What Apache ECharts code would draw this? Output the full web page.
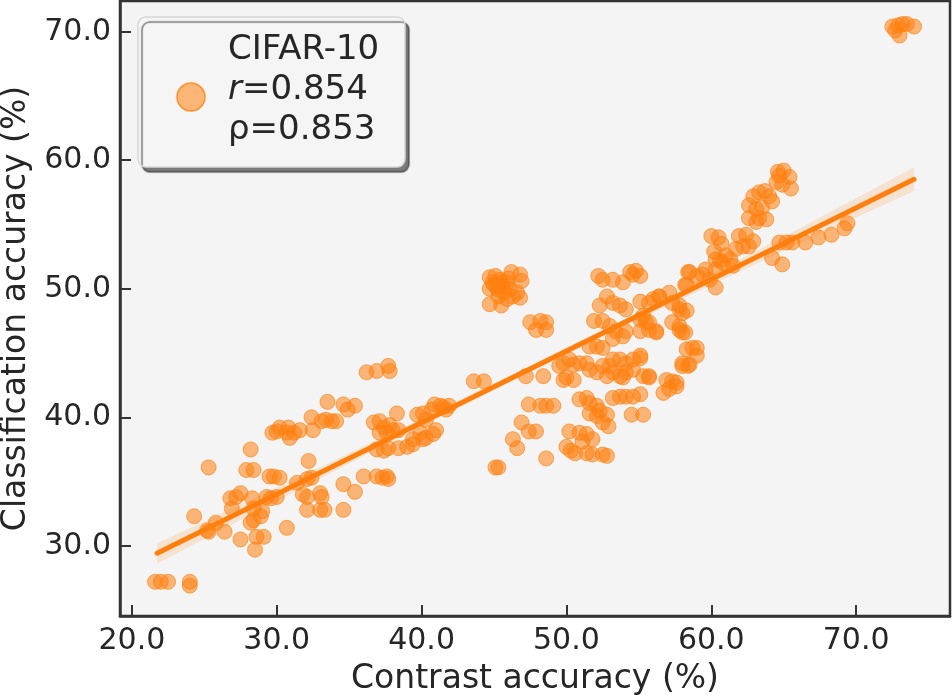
<!DOCTYPE html>
<html>
<head>
<meta charset="utf-8">
<script src="https://cdn.jsdelivr.net/npm/echarts@6/dist/echarts.min.js"></script>
<style>
html,body{margin:0;padding:0;background:#fff;}
#chart{width:952px;height:695px;}
</style>
</head>
<body>
<div id="chart"></div>
<script>
// ---- data ----
var contrastAcc = [
21.6,22.0,22.5,24.0,24.0,24.3,25.3,25.2,25.3,25.8,26.4,26.8,27.2,27.5,26.9,27.5,28.2,28.4,28.9,29.0,
28.6,29.1,28.5,28.3,28.4,27.9,28.4,28.2,29.5,29.8,30.2,29.3,29.6,30.0,30.7,31.4,32.1,32.4,31.8,32.1,
33.0,33.1,32.1,33.0,33.3,32.2,34.6,34.6,35.4,36.0,36.9,37.3,37.6,37.7,
29.7,30.0,30.2,30.7,30.8,30.9,31.2,31.6,32.4,32.5,33.1,33.4,33.8,34.1,33.5,34.6,34.9,35.4,
36.7,37.1,37.4,37.8,38.3,37.6,38.0,38.4,37.1,36.9,37.4,37.7,38.4,39.0,39.4,
39.7,40.1,40.3,40.7,40.9,40.1,40.3,40.8,41.0,39.4,39.9,41.3,41.7,41.5,41.9,
36.2,36.9,37.7,37.8,
44.7,45.1,45.4,45.9,46.2,46.8,46.9,44.7,45.2,45.6,46.1,46.6,46.8,44.7,45.5,45.9,46.3,45.3,44.9,45.7,
45.0,45.5,46.0,45.3,
47.5,47.9,48.2,48.6,48.6,43.6,44.3,47.2,48.4,
49.5,49.8,50.2,50.5,50.9,49.8,50.0,50.5,51.4,
51.6,52.1,52.5,53.0,53.2,53.7,54.1,54.6,55.1,53.2,53.7,54.1,54.6,52.8,53.9,
55.3,55.7,56.9,57.3,57.6,56.7,57.1,
50.9,51.4,51.6,52.1,52.3,52.8,53.2,53.7,54.1,54.6,55.1,54.5,55.3,51.6,52.1,52.5,52.9,
47.4,48.2,48.6,49.1,46.9,47.4,47.9,46.3,46.6,45.3,45.1,48.6,50.0,50.3,50.6,
50.2,50.9,51.4,51.8,51.1,51.4,51.8,52.5,52.8,
52.2,52.5,53.2,53.9,54.4,54.6,54.8,52.8,53.2,53.7,54.1,52.3,55.1,55.7,56.4,57.1,
51.9,52.5,53.0,53.4,54.1,55.1,55.7,56.2,55.1,55.5,51.6,52.1,52.5,53.2,53.9,
57.8,57.8,58.2,57.3,58.3,58.4,58.0,58.4,58.3,58.7,59.0,58.5,
64.6,65.0,65.4,64.5,64.9,65.5,64.7,
62.9,63.3,63.7,64.0,64.2,62.6,63.1,63.5,62.6,63.3,63.8,63.1,
60.0,60.5,60.7,60.2,61.0,60.6,61.9,62.4,62.9,62.2,61.7,62.6,
60.3,60.8,61.3,61.5,60.3,59.6,59.9,60.3,58.5,58.2,59.0,59.4,
64.2,64.9,64.7,65.2,65.6,66.5,67.4,68.3,69.2,69.4,
55.1,56.0,56.4,57.3,57.8,58.0,58.3,55.3,55.7,56.2,57.8,58.0,55.1,59.0,58.0,55.7,57.6,
72.5,72.9,73.2,73.5,74.0,73.0,72.7
];
var classAcc = [
27.2,27.2,27.2,27.2,26.9,32.3,36.1,31.2,31.1,31.8,31.1,33.7,33.8,34.1,32.9,30.5,31.8,32.0,32.3,32.7,
30.7,30.7,29.7,33.7,32.9,35.9,35.9,37.5,35.4,35.4,35.3,33.8,33.7,33.8,31.4,34.9,35.2,35.3,34.0,33.8,
34.1,33.8,32.8,32.8,32.8,36.6,32.8,34.8,34.2,35.4,35.4,35.3,35.4,35.2,
38.8,38.9,39.2,38.8,39.2,38.4,38.8,39.0,40.0,39.0,39.7,39.8,39.7,39.7,41.2,41.0,40.6,40.9,
39.6,39.7,39.2,39.4,40.3,38.8,39.0,39.0,38.8,37.5,37.4,37.6,37.6,37.7,37.9,
40.2,40.3,39.8,40.6,41.0,38.3,38.4,38.7,39.0,38.3,38.8,40.9,40.6,40.8,40.9,
43.5,43.6,44.0,43.6,
50.9,51.0,50.7,50.5,51.3,51.1,50.6,50.0,50.1,50.2,50.0,49.7,49.3,48.8,48.7,49.2,49.4,49.4,50.5,49.7,
50.3,50.5,50.8,49.9,
47.4,46.8,47.5,47.4,46.8,42.8,42.8,43.2,43.2,
44.0,44.2,44.5,44.1,44.2,42.9,43.1,42.9,44.2,
43.7,43.5,44.0,44.0,44.5,44.5,44.2,44.5,44.6,43.5,43.2,43.5,43.7,43.2,43.1,
43.2,43.1,42.9,42.8,42.4,41.9,42.2,
41.4,41.5,41.1,40.9,40.5,40.2,41.5,41.6,41.6,41.6,41.8,40.2,40.2,40.3,40.1,39.6,39.3,
41.0,40.9,40.9,40.9,39.6,38.9,38.9,38.3,37.6,36.1,36.1,36.8,37.7,37.4,37.2,
38.9,38.8,38.7,38.3,38.1,37.2,37.1,37.1,37.0,
51.0,50.7,50.7,50.5,51.3,51.1,51.4,49.4,48.9,48.7,48.4,48.7,49.0,48.9,49.4,49.7,
47.5,47.5,47.1,46.7,46.7,46.7,46.8,46.7,47.6,47.4,45.5,45.5,45.4,46.1,46.3,
48.7,47.1,46.6,47.4,50.3,51.3,44.2,44.0,45.3,45.4,44.8,44.1,
59.1,59.2,58.7,58.3,58.1,57.8,58.8,
57.2,57.5,57.6,57.2,56.8,56.5,56.2,56.3,55.5,55.5,55.4,55.2,
54.1,54.0,53.5,52.9,52.6,52.2,54.1,54.2,53.7,53.3,53.1,53.3,
52.3,52.0,52.3,51.8,51.5,51.5,50.7,50.1,51.3,50.3,51.0,51.1,
52.4,51.9,53.6,53.6,53.6,53.6,54.0,54.2,54.7,55.1,
51.0,49.2,49.4,48.9,48.4,48.1,48.3,47.9,47.4,46.6,46.8,46.6,44.8,45.4,44.0,43.2,42.7,
70.4,70.5,70.6,70.6,70.4,69.7,70.1
];
var fitX = [21.74, 74.0];
var fitY = [29.43, 58.52];
var bandX = [21.74, 30, 40, 47, 55, 65, 74];
var bandLower = [28.6, 33.5, 39.3, 43.25, 47.6, 52.95, 57.6];
var bandUpper = [30.2, 34.5, 39.9, 43.75, 48.2, 54.05, 59.45];
var xTicks = [20, 30, 40, 50, 60, 70];
var yTicks = [30, 40, 50, 60, 70];
var seriesName = 'CIFAR-10';
var pearsonR = '0.854';
var spearmanRho = '0.853';

// ---- build chart ----
var FONT = 'DejaVu Sans';
var TXT = '#262626';
var scatterData = contrastAcc.map(function (x, i) { return [x, classAcc[i]]; });
var lineData = fitX.map(function (x, i) { return [x, fitY[i]]; });

var chart = echarts.init(document.getElementById('chart'), null, {renderer: 'canvas'});
chart.setOption({
  animation: false,
  backgroundColor: '#ffffff',
  grid: {
    left: 120, right: 2, top: 1, bottom: 79,
    outerBoundsMode: 'none', containLabel: false,
    show: true, backgroundColor: '#f4f4f4', borderColor: '#333', borderWidth: 2.5
  },
  xAxis: {
    type: 'value', min: 19.18, max: 76.48,
    name: 'Contrast accuracy (%)', nameLocation: 'middle', nameGap: 47,
    nameTextStyle: {fontFamily: FONT, fontSize: 33, color: TXT},
    axisLine: {show: true, lineStyle: {color: '#333', width: 2.5}},
    axisTick: {show: true, inside: true, length: 11, lineStyle: {color: '#333', width: 2}, customValues: xTicks},
    axisLabel: {fontFamily: FONT, fontSize: 30, color: TXT, margin: 10, customValues: xTicks,
      formatter: function (v) { return v.toFixed(1); }},
    splitLine: {show: false}
  },
  yAxis: {
    type: 'value', min: 24.54, max: 72.39,
    name: 'Classification accuracy (%)', nameLocation: 'middle', nameGap: 84,
    nameTextStyle: {fontFamily: FONT, fontSize: 33, color: TXT},
    axisLine: {show: true, lineStyle: {color: '#333', width: 2.5}},
    axisTick: {show: true, inside: true, length: 11, lineStyle: {color: '#333', width: 2}, customValues: yTicks},
    axisLabel: {fontFamily: FONT, fontSize: 30, color: TXT, margin: 9, customValues: yTicks,
      formatter: function (v) { return v.toFixed(1); }},
    splitLine: {show: false}
  },
  series: [
    {
      name: seriesName, type: 'scatter', data: scatterData, symbolSize: 15,
      itemStyle: {color: 'rgba(255,127,14,0.55)', borderColor: 'rgba(255,127,14,0.65)', borderWidth: 1, opacity: 1},
      z: 2
    },
    {
      type: 'custom', data: [[bandX[0], bandLower[0]]], clip: true, silent: true, z: 3,
      renderItem: function (params, api) {
        var pts = [];
        for (var i = 0; i < bandX.length; i++) pts.push(api.coord([bandX[i], bandUpper[i]]));
        for (var j = bandX.length - 1; j >= 0; j--) pts.push(api.coord([bandX[j], bandLower[j]]));
        return {type: 'polygon', shape: {points: pts}, style: {fill: 'rgba(255,127,14,0.15)', stroke: null}};
      }
    },
    {
      type: 'line', data: lineData, symbol: 'none', silent: true, z: 4,
      lineStyle: {color: '#ff7f0e', width: 5, cap: 'round'}
    }
  ],
  graphic: [
    {
      type: 'rect', z: 100,
      shape: {x: 138, y: 17, width: 267, height: 150, r: 8},
      style: {fill: '#f5f5f5', stroke: '#d6d6d6', lineWidth: 1.5,
        shadowColor: 'rgba(0,0,0,0.5)', shadowOffsetX: 4, shadowOffsetY: 5, shadowBlur: 1}
    },
    {
      type: 'circle', z: 101,
      shape: {cx: 191, cy: 97, r: 14},
      style: {fill: 'rgba(255,127,14,0.55)', stroke: 'rgba(255,127,14,0.8)', lineWidth: 1.5}
    },
    {
      type: 'text', z: 101, x: 228, y: 30,
      style: {
        text: '{a|' + seriesName + '}\n{i|r}{a|=' + pearsonR + '}\n{a|ρ=' + spearmanRho + '}',
        verticalAlign: 'top', align: 'left',
        fontFamily: FONT, fontSize: 34, lineHeight: 40, fill: TXT,
        rich: {
          a: {fontFamily: FONT, fontSize: 34, lineHeight: 40, fill: TXT, color: TXT},
          i: {fontFamily: FONT, fontSize: 34, lineHeight: 40, fontStyle: 'italic', fill: TXT, color: TXT}
        }
      }
    }
  ]
});
</script>
</body>
</html>
